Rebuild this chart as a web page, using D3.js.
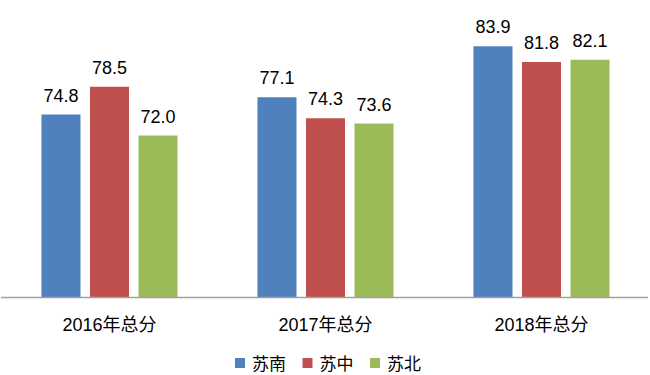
<!DOCTYPE html>
<html>
<head>
<meta charset="utf-8">
<script src="https://cdn.jsdelivr.net/npm/d3@7"></script>
<style>
  html, body { margin: 0; padding: 0; background: #fff; }
  svg { display: block; }
  text { font-family: "Liberation Sans", "Noto Sans CJK SC", sans-serif; fill: #000; }
</style>
</head>
<body>
<svg id="chart" width="650" height="375"></svg>
<script>
const categories = ["2016年总分", "2017年总分", "2018年总分"];
const seriesNames = ["苏南", "苏中", "苏北"];
const suNan = [74.8, 77.1, 83.9];
const suZhong = [78.5, 74.3, 81.8];
const suBei = [72.0, 73.6, 82.1];
const colors = ["#4F81BD", "#C0504D", "#9BBB59"];

const seriesValues = [suNan, suZhong, suBei];
const data = categories.map((c, i) => ({
  category: c,
  values: seriesNames.map((s, j) => ({ series: s, value: seriesValues[j][i], color: colors[j] }))
}));

const svg = d3.select("#chart");
const baseY = 297.5;

const x0 = d3.scaleBand().domain(categories).range([1.5, 649.5])
  .paddingInner(0.37).paddingOuter(0.185);
const x1 = d3.scaleBand().domain(seriesNames).range([0, x0.bandwidth()])
  .paddingInner(0.196);
const y = d3.scaleLinear().domain([50.4, 90]).range([baseY, 0.5]);

const groups = svg.append("g").selectAll("g").data(data).join("g")
  .attr("transform", d => `translate(${x0(d.category)},0)`);

groups.selectAll("rect").data(d => d.values).join("rect")
  .attr("x", d => x1(d.series))
  .attr("y", d => y(d.value))
  .attr("width", x1.bandwidth())
  .attr("height", d => baseY - y(d.value))
  .attr("fill", d => d.color);

groups.selectAll("text.val").data(d => d.values).join("text")
  .attr("class", "val")
  .attr("x", d => x1(d.series) + x1.bandwidth() / 2)
  .attr("y", d => y(d.value) - 13)
  .attr("text-anchor", "middle")
  .attr("font-size", 18)
  .text(d => d3.format(".1f")(d.value));

// baseline axis
const xAxis = d3.axisBottom(x0).tickSize(0).tickPadding(0);
const axisG = svg.append("g").attr("transform", `translate(0,${baseY})`).call(xAxis);
axisG.select(".domain").attr("d", "M1,0H648").attr("stroke", "#a0a0a0").attr("stroke-width", 1.5);
axisG.selectAll(".tick text")
  .attr("y", 33.5)
  .attr("dy", null)
  .attr("font-size", 18)
  .attr("fill", "#000")
  .attr("font-family", "\"Liberation Sans\", \"Noto Sans CJK SC\", sans-serif");

// legend
const legend = svg.append("g").attr("transform", "translate(235,0)");
const itemW = 67.5;
const li = legend.selectAll("g").data(seriesNames).join("g")
  .attr("transform", (d, i) => `translate(${i * itemW},0)`);
li.append("rect").attr("x", 0).attr("y", 358).attr("width", 10).attr("height", 10)
  .attr("fill", (d, i) => colors[i]);
li.append("text").attr("x", 17).attr("y", 370).attr("font-size", 17).text(d => d);
</script>
</body>
</html>
